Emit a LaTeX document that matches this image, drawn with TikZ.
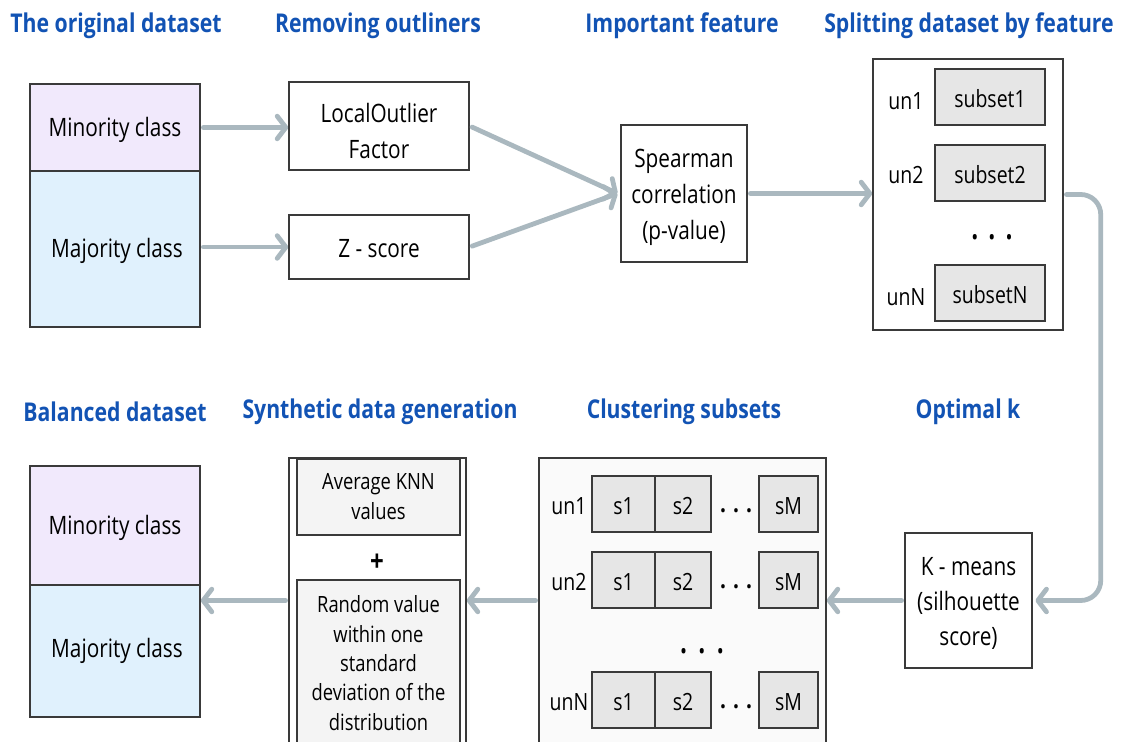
\documentclass[tikz,border=0pt]{standalone}
\usepackage{fontspec}
\setmainfont{Open Sans}[FakeStretch=0.82]
\usetikzlibrary{arrows.meta}
\definecolor{ttl}{HTML}{1253B4}
\definecolor{arrg}{HTML}{AAB8BF}
\definecolor{minc}{HTML}{F1E9FC}
\definecolor{majc}{HTML}{E0F1FD}
\definecolor{subc}{HTML}{E6E6E6}
\definecolor{clc}{HTML}{FAFAFA}
\definecolor{knc}{HTML}{F4F4F4}
\definecolor{edge}{HTML}{3A3A3A}
\tikzset{
  ttlnode/.style={text=ttl,font=\fontsize{19.4}{22}\selectfont\bfseries,inner sep=0},
  bx/.style={draw=edge,line width=1.1pt,inner sep=0},
  txt/.style={inner sep=0,align=center,font=\fontsize{19}{27}\selectfont},
  subbx/.style={bx,fill=subc},
  lbl/.style={inner sep=0,font=\fontsize{17.8}{20}\selectfont},
  sm/.style={inner sep=0,align=center,font=\fontsize{16.8}{22}\selectfont},
  arr/.style={draw=arrg,line width=3.6pt,line cap=round,-{Straight Barb[round,length=6.5pt,width=17pt]},shorten <=2pt},
}
\begin{document}
\begin{tikzpicture}[x=0.75pt,y=-0.75pt]
\useasboundingbox (0,0) rectangle (1122,742);
\clip (0,0) rectangle (1122,742);
% titles
\node[ttlnode] (t1) at (116,26) {The original dataset};
\node[ttlnode] (t2) at (378,26) {Removing outliners};
\node[ttlnode] (t3) at (682,26) {Important feature};
\node[ttlnode] (t4) at (969,26) {Splitting dataset by feature};
\node[ttlnode] (t5) at (115,412) {Balanced dataset};
\node[ttlnode] (t6) at (380,412) {Synthetic data generation};
\node[ttlnode] (t7) at (684,412) {Clustering subsets};
\node[ttlnode] (t8) at (968,412) {Optimal k};
% original dataset
\node[bx,fill=minc,minimum width=0.75pt*170,minimum height=0.75pt*87] (minTop) at (115,127.5) {};
\node[txt] (minTopT) at (115,130) {Minority class};
\node[bx,fill=majc,minimum width=0.75pt*170,minimum height=0.75pt*156] (majTop) at (115,249) {};
\node[txt] (majTopT) at (117,251) {Majority class};
% outliers
\node[bx,fill=white,minimum width=0.75pt*180,minimum height=0.75pt*88] (lof) at (379,126) {};
\node[txt] (lofT) at (379,131) {LocalOutlier\\Factor};
\node[bx,fill=white,minimum width=0.75pt*180,minimum height=0.75pt*64] (zs) at (379,247) {};
\node[txt] (zsT) at (379,249) {Z - score};
% spearman
\node[bx,fill=white,minimum width=0.75pt*126,minimum height=0.75pt*137] (spear) at (684,193.5) {};
\node[txt] (spearT) at (684,197.5) {Spearman\\correlation\\(p-value)};
% splitting
\node[bx,fill=white,minimum width=0.75pt*190,minimum height=0.75pt*271] (split) at (968,194.5) {};
\node[subbx,minimum width=0.75pt*110,minimum height=0.75pt*56] (ss1) at (990,97) {};
\node[lbl] (ss1T) at (990,99) {subset1};
\node[subbx,minimum width=0.75pt*110,minimum height=0.75pt*56] (ss2) at (990,173) {};
\node[lbl] (ss2T) at (990,175) {subset2};
\node[subbx,minimum width=0.75pt*110,minimum height=0.75pt*56] (ssN) at (990,293) {};
\node[lbl] (ssNT) at (990,295) {subsetN};
\node[lbl] (u1) at (906,101) {un1};
\node[lbl] (u2) at (906,175) {un2};
\node[lbl] (uN) at (906,297) {unN};
\node[inner sep=0,font=\fontsize{17}{20}\selectfont] (sdots) at (992,240) {•\hspace{0.45em}•\hspace{0.45em}•};
% k-means
\node[bx,fill=white,minimum width=0.75pt*127,minimum height=0.75pt*135] (kmeans) at (968.5,600.5) {};
\node[txt,font=\fontsize{19}{26.5}\selectfont] (kmeansT) at (968.5,603.5) {K - means\\(silhouette\\score)};
% clustering
\node[bx,fill=clc,minimum width=0.75pt*287,minimum height=0.75pt*330] (clus) at (682.5,623) {};
\foreach \r/\y/\u in {1/504/un1,2/580/un2,3/700/unN}{
  \node[subbx,minimum width=0.75pt*63,minimum height=0.75pt*56] (c\r a) at (623.5,\y) {};
  \node[lbl] (c\r aT) at (623.5,\y+2) {s1};
  \node[subbx,minimum width=0.75pt*56,minimum height=0.75pt*56] (c\r b) at (683,\y) {};
  \node[lbl] (c\r bT) at (683,\y+2) {s2};
  \node[subbx,minimum width=0.75pt*59,minimum height=0.75pt*56] (c\r m) at (788.5,\y) {};
  \node[lbl] (c\r mT) at (788.5,\y+2) {sM};
  \node[lbl] (cl\r) at (569,\y+2) {\u};
  \node[inner sep=0,font=\fontsize{19}{20}\selectfont\bfseries] (cd\r) at (736,\y+7) {.\hspace{0.28em}.\hspace{0.28em}.};
}
\node[inner sep=0,font=\fontsize{17}{20}\selectfont] (cdots) at (702,654) {•\hspace{0.5em}•\hspace{0.5em}•};
% synthetic
\node[bx,fill=white,minimum width=0.75pt*177,minimum height=0.75pt*330] (synth) at (377.5,623) {};
\node[bx,fill=knc,minimum width=0.75pt*163,minimum height=0.75pt*76] (knn) at (378.5,497) {};
\node[sm,font=\fontsize{16.8}{22.5}\selectfont] (knnT) at (378.5,497) {Average KNN\\values};
\node[inner sep=0,font=\fontsize{22}{22}\selectfont\bfseries] (plus) at (377,563) {+};
\node[bx,fill=knc,minimum width=0.75pt*163,minimum height=0.75pt*200] (randbox) at (378.5,680) {};
\node[sm] (randtxt) at (378.5,663) {Random value\\within one\\standard\\deviation of the\\distribution};
% balanced
\node[bx,fill=minc,minimum width=0.75pt*170,minimum height=0.75pt*119] (minBot) at (115,525.5) {};
\node[txt] (minBotT) at (115,527.5) {Minority class};
\node[bx,fill=majc,minimum width=0.75pt*170,minimum height=0.75pt*132] (majBot) at (115,651) {};
\node[txt] (majBotT) at (117,651) {Majority class};
% arrows
\draw[arr] (minTop.east) -- (lof.west |- minTop.east);
\draw[arr] (majTop.east |- zs.west) -- (zs.west);
\draw[arr] (lof.east) -- ([xshift=-2pt]spear.west);
\draw[arr] (zs.east) -- ([xshift=-2pt]spear.west);
\draw[arr] (spear.east) -- (split.west |- spear.east);
\draw[arr,rounded corners=15pt] (split.east) -- ++(37,0) |- ([xshift=2pt]kmeans.east);
\draw[arr] (kmeans.west) -- (clus.east |- kmeans.west);
\draw[arr] (clus.west |- kmeans.west) -- (synth.east |- kmeans.west);
\draw[arr] (synth.west |- kmeans.west) -- (majBot.east |- kmeans.west);
\end{tikzpicture}
\end{document}
